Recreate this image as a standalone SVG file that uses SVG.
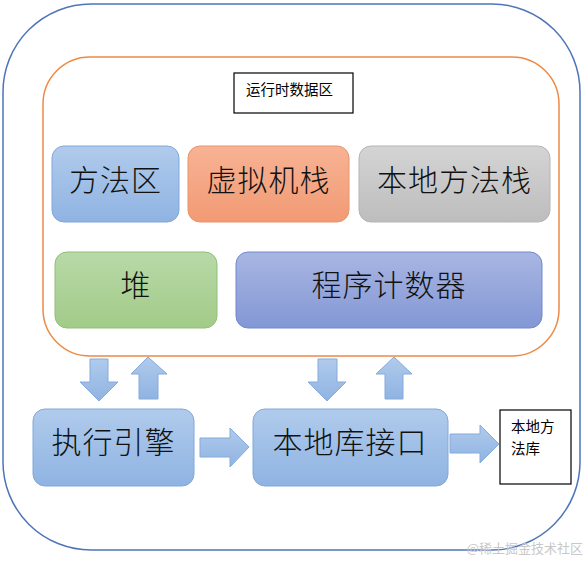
<svg xmlns="http://www.w3.org/2000/svg" width="587" height="561" viewBox="0 0 587 561">
<defs>
<linearGradient id="gBlue" x1="0" y1="0" x2="0" y2="1"><stop offset="0" stop-color="#b0cbec"/><stop offset="1" stop-color="#8fb3e2"/></linearGradient>
<linearGradient id="gOrange" x1="0" y1="0" x2="0" y2="1"><stop offset="0" stop-color="#f7b394"/><stop offset="1" stop-color="#f29a74"/></linearGradient>
<linearGradient id="gGray" x1="0" y1="0" x2="0" y2="1"><stop offset="0" stop-color="#d4d4d4"/><stop offset="1" stop-color="#bdbdbd"/></linearGradient>
<linearGradient id="gGreen" x1="0" y1="0" x2="0" y2="1"><stop offset="0" stop-color="#b8d9a8"/><stop offset="1" stop-color="#a2cb88"/></linearGradient>
<linearGradient id="gPurple" x1="0" y1="0" x2="0" y2="1"><stop offset="0" stop-color="#a9b6e2"/><stop offset="1" stop-color="#8397d5"/></linearGradient>
<style>
.big{font-family:"Noto Sans CJK SC","Noto Sans CJK JP",sans-serif;font-size:30px;font-weight:300;fill:#111;text-anchor:middle;letter-spacing:1px}
.small{font-family:"Noto Sans CJK SC","Noto Sans CJK JP",sans-serif;font-size:14.5px;fill:#000}
.arrow{fill:url(#gBlue);stroke:#86aadb;stroke-width:1}
.lbl{fill:#fff;stroke:#000;stroke-width:1.2}
</style>
</defs>
<g id="outer"><rect x="3" y="4" width="577" height="546" rx="88" ry="88" fill="#fff" stroke="#4f75b8" stroke-width="1.5"/></g>
<g id="runtime-area">
<rect x="43" y="57" width="516" height="299" rx="47" ry="47" fill="#fff" stroke="#ed8a45" stroke-width="1.5"/>
<rect class="lbl" x="234" y="73" width="119" height="40"/>
<text class="small" x="246" y="95">运行时数据区</text>
</g>
<g id="method-area"><rect x="52" y="146" width="127" height="76" rx="12" fill="url(#gBlue)" stroke="#82a8da"/><text class="big" x="115.5" y="191">方法区</text></g>
<g id="vm-stack"><rect x="188" y="146" width="161" height="76" rx="12" fill="url(#gOrange)" stroke="#e8946c"/><text class="big" x="268.5" y="191">虚拟机栈</text></g>
<g id="native-method-stack"><rect x="359" y="146" width="191" height="76" rx="12" fill="url(#gGray)" stroke="#b5b5b5"/><text class="big" x="454.5" y="191">本地方法栈</text></g>
<g id="heap"><rect x="55" y="252" width="162" height="76" rx="12" fill="url(#gGreen)" stroke="#8fbf77"/><text class="big" x="136" y="296">堆</text></g>
<g id="pc-register"><rect x="236" y="252" width="306" height="76" rx="12" fill="url(#gPurple)" stroke="#7188d0"/><text class="big" x="389" y="296">程序计数器</text></g>
<g id="execution-engine"><rect x="33" y="409" width="161" height="77" rx="12" fill="url(#gBlue)" stroke="#82a8da"/><text class="big" x="113.5" y="453">执行引擎</text></g>
<g id="native-interface"><rect x="253" y="409" width="195" height="77" rx="12" fill="url(#gBlue)" stroke="#82a8da"/><text class="big" x="350" y="453">本地库接口</text></g>
<g id="native-library"><rect class="lbl" x="500" y="410" width="71" height="74"/><text class="small" x="511" y="432">本地方</text><text class="small" x="511" y="454">法库</text></g>
<g id="connectors">
<polygon class="arrow" points="90,359 108,359 108,382 118,382 99,401 80,382 90,382"/>
<polygon class="arrow" points="148,357 167,374 158,374 158,399 139,399 139,374 131,374"/>
<polygon class="arrow" points="318,359 337,359 337,382 346,382 327,401 308,382 318,382"/>
<polygon class="arrow" points="394,357 412,374 403,374 403,399 385,399 385,374 376,374"/>
<polygon class="arrow" points="200,438 230,438 230,428 249,447 230,467 230,457 200,457"/>
<polygon class="arrow" points="450,434 480,434 480,425 499,444 480,463 480,453 450,453"/>
</g>
<text x="583" y="553" text-anchor="end" style="font-family:'Noto Sans CJK SC',sans-serif;font-size:13px;fill:#c8c8c8">@稀土掘金技术社区</text>
</svg>
